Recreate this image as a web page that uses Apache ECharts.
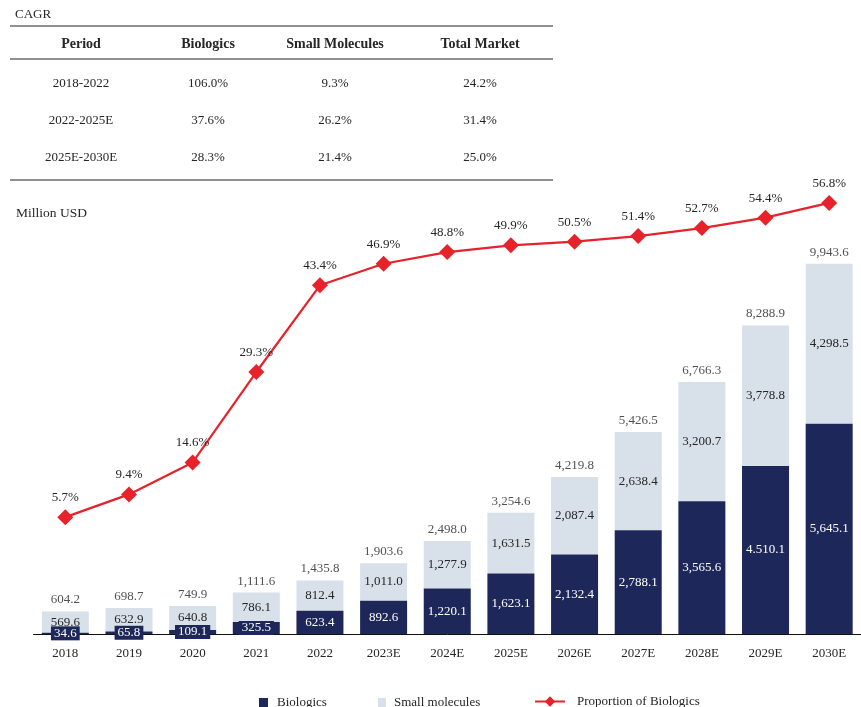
<!DOCTYPE html>
<html>
<head>
<meta charset="utf-8">
<script src="https://cdn.jsdelivr.net/npm/echarts@6/dist/echarts.min.js"></script>
<style>
  html, body { margin: 0; padding: 0; background: #fff; }
  #chart { width: 861px; height: 707px; }
</style>
</head>
<body>
<div id="chart"></div>
<script>
const FONT = '"Liberation Serif", "Times New Roman", serif';
const NAVY = '#1e2759';
const LIGHT = '#d8e0ea';
const RED = '#e6222a';
const TEXT = '#262626';

const years = ['2018', '2019', '2020', '2021', '2022', '2023E', '2024E', '2025E', '2026E', '2027E', '2028E', '2029E', '2030E'];
const biologics = [34.6, 65.8, 109.1, 325.5, 623.4, 892.6, 1220.1, 1623.1, 2132.4, 2788.1, 3565.6, 4510.1, 5645.1];
const smallMolecules = [569.6, 632.9, 640.8, 786.1, 812.4, 1011.0, 1277.9, 1631.5, 2087.4, 2638.4, 3200.7, 3778.8, 4298.5];
const totals = [604.2, 698.7, 749.9, 1111.6, 1435.8, 1903.6, 2498.0, 3254.6, 4219.8, 5426.5, 6766.3, 8288.9, 9943.6];
const proportion = [5.7, 9.4, 14.6, 29.3, 43.4, 46.9, 48.8, 49.9, 50.5, 51.4, 52.7, 54.4, 56.8];

// CAGR table
const cagrHeader = ['Period', 'Biologics', 'Small Molecules', 'Total Market'];
const cagrRows = [
  ['2018-2022', '106.0%', '9.3%', '24.2%'],
  ['2022-2025E', '37.6%', '26.2%', '31.4%'],
  ['2025E-2030E', '28.3%', '21.4%', '25.0%']
];

// label as printed in the source (2029E uses a dot separator)
const bioLabelOverride = { 11: '4.510.1' };

function fmt(v) {
  return Number(v).toLocaleString('en-US', { minimumFractionDigits: 1, maximumFractionDigits: 1 });
}

function buildTable() {
  const colX = [81, 208, 335, 480];
  const rowY = [84, 121, 158];
  const els = [];
  els.push({ type: 'text', left: 15, top: 8, style: { text: 'CAGR', font: '13px ' + FONT, fill: TEXT } });
  [26, 59, 180].forEach((y) => {
    els.push({
      type: 'line',
      shape: { x1: 10, y1: y, x2: 553, y2: y },
      style: { stroke: '#222', lineWidth: 1.2 }
    });
  });
  cagrHeader.forEach((h, i) => {
    els.push({
      type: 'text', x: colX[i], y: 44,
      style: { text: h, font: 'bold 14px ' + FONT, fill: TEXT, align: 'center', verticalAlign: 'middle' }
    });
  });
  cagrRows.forEach((row, r) => {
    row.forEach((cell, i) => {
      els.push({
        type: 'text', x: colX[i], y: rowY[r],
        style: { text: cell, font: '13px ' + FONT, fill: TEXT, align: 'center', verticalAlign: 'middle' }
      });
    });
  });
  els.push({ type: 'text', left: 16, top: 206, style: { text: 'Million USD', font: '13.5px ' + FONT, fill: TEXT } });
  return els;
}

const chart = echarts.init(document.getElementById('chart'));

chart.setOption({
  backgroundColor: '#fff',
  animation: false,
  textStyle: { fontFamily: FONT },
  graphic: buildTable(),
  grid: { left: 33.5, width: 832, top: 150, bottom: 73, containLabel: false },
  legend: [
    {
      data: ['Biologics'], left: 254, top: 691, icon: 'rect',
      itemWidth: 9, itemHeight: 9,
      textStyle: { fontFamily: FONT, fontSize: 13, color: TEXT, padding: [0, 0, 0, 4] }
    },
    {
      data: ['Small molecules'], left: 373, top: 691, icon: 'rect',
      itemWidth: 8, itemHeight: 9,
      textStyle: { fontFamily: FONT, fontSize: 13, color: TEXT, padding: [0, 0, 0, 3] }
    },
    {
      data: ['Proportion of Biologics'], left: 529, top: 690,
      itemWidth: 30, itemHeight: 13,
      textStyle: { fontFamily: FONT, fontSize: 13, color: TEXT, padding: [0, 0, 0, 7] }
    }
  ],
  xAxis: {
    type: 'category',
    data: years,
    axisLine: { lineStyle: { color: '#111', width: 1 } },
    axisTick: { show: false },
    axisLabel: { color: TEXT, fontSize: 13, fontFamily: FONT, margin: 13 }
  },
  yAxis: [
    { type: 'value', min: 0, max: 13000, show: false, splitLine: { show: false } },
    { type: 'value', min: -13.3, max: 65.4, show: false, splitLine: { show: false } }
  ],
  series: [
    {
      name: 'Biologics',
      type: 'bar',
      stack: 'market',
      barWidth: 47,
      data: biologics,
      itemStyle: { color: NAVY },
      label: {
        show: true,
        position: 'inside',
        color: '#fff',
        fontSize: 13,
        fontFamily: FONT,
        backgroundColor: NAVY,
        padding: [1, 3, 0, 3],
        formatter: (p) => bioLabelOverride[p.dataIndex] || fmt(p.value)
      },
      z: 3
    },
    {
      name: 'Small molecules',
      type: 'bar',
      stack: 'market',
      barWidth: 47,
      data: smallMolecules,
      itemStyle: { color: LIGHT },
      label: {
        show: true,
        position: 'inside',
        color: TEXT,
        fontSize: 13,
        fontFamily: FONT,
        formatter: (p) => fmt(p.value)
      },
      z: 2
    },
    {
      name: 'Total',
      type: 'scatter',
      data: totals,
      symbolSize: 0,
      silent: true,
      label: {
        show: true,
        position: 'top',
        distance: 5,
        color: TEXT,
        fontSize: 13,
        fontFamily: FONT,
        formatter: (p) => fmt(p.value)
      }
    },
    {
      name: 'Proportion of Biologics',
      type: 'line',
      yAxisIndex: 1,
      data: proportion,
      symbol: 'diamond',
      symbolSize: 16,
      lineStyle: { color: RED, width: 2.2 },
      itemStyle: { color: RED },
      label: {
        show: true,
        position: 'top',
        distance: 5,
        color: TEXT,
        fontSize: 13,
        fontFamily: FONT,
        formatter: (p) => p.value.toFixed(1) + '%'
      },
      z: 5
    }
  ]
});
</script>
</body>
</html>
